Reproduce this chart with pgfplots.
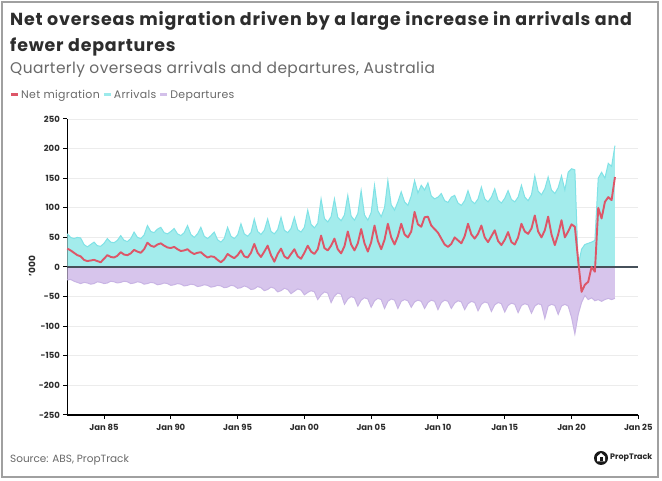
\documentclass[border=0pt]{standalone}
\usepackage{fontspec}
\setmainfont{Poppins}
\usepackage{pgfplots}
\usepackage{pgfplotstable}
\pgfplotsset{compat=1.18}

\definecolor{arrfill}{RGB}{163,236,236}
\definecolor{arrline}{RGB}{128,226,230}
\definecolor{depfill}{RGB}{215,197,236}
\definecolor{depline}{RGB}{200,180,228}
\definecolor{netcol}{RGB}{221,86,104}
\definecolor{zerocol}{RGB}{70,80,90}
\definecolor{gridcol}{RGB}{236,236,236}
\definecolor{txtdark}{RGB}{45,45,45}
\definecolor{txtgray}{RGB}{105,105,105}
\definecolor{framecol}{RGB}{160,160,160}

% quarterly, '000 persons
\pgfplotstableread{
x arr dep net
1982.25 56 -22 31
1982.50 50 -21 28
1982.75 48 -24 24
1983.00 50 -26 20
1983.25 49 -28 18
1983.50 38 -26 12
1983.75 34 -27 10
1984.00 38 -29 11
1984.25 42 -28 12
1984.50 36 -25 10
1984.75 35 -26 8
1985.00 40 -28 14
1985.25 48 -27 20
1985.50 42 -24 17
1985.75 41 -25 16
1986.00 45 -27 19
1986.25 53 -26 25
1986.50 45 -24 21
1986.75 43 -25 20
1987.00 48 -28 23
1987.25 59 -27 29
1987.50 50 -25 26
1987.75 48 -26 24
1988.00 54 -29 30
1988.25 70 -28 41
1988.50 60 -26 36
1988.75 58 -27 34
1989.00 64 -30 38
1989.25 67 -29 40
1989.50 58 -27 36
1989.75 56 -28 33
1990.00 60 -31 32
1990.25 65 -30 34
1990.50 56 -28 30
1990.75 53 -29 27
1991.00 58 -32 28
1991.25 70 -31 30
1991.50 55 -29 25
1991.75 50 -30 22
1992.00 56 -33 24
1992.25 67 -32 25
1992.50 52 -30 20
1992.75 48 -31 16
1993.00 53 -34 18
1993.25 59 -33 17
1993.50 46 -31 12
1993.75 42 -32 8
1994.00 48 -35 13
1994.25 67 -34 22
1994.50 52 -31 18
1994.75 48 -32 15
1995.00 54 -36 20
1995.25 73 -35 28
1995.50 56 -32 18
1995.75 52 -34 16
1996.00 58 -38 24
1996.25 81 -37 39
1996.50 60 -33 24
1996.75 55 -35 17
1997.00 62 -40 26
1997.25 81 -38 36
1997.50 60 -34 20
1997.75 56 -36 9
1998.00 63 -42 22
1998.25 84 -40 31
1998.50 62 -36 18
1998.75 58 -38 14
1999.00 65 -45 22
1999.25 84 -41 30
1999.50 63 -37 18
1999.75 59 -39 14
2000.00 67 -47 24
2000.25 96 -43 36
2000.50 72 -40 26
2000.75 66 -42 22
2001.00 74 -55 30
2001.25 115 -47 53
2001.50 82 -42 32
2001.75 76 -44 28
2002.00 85 -60 36
2002.25 115 -49 48
2002.50 84 -44 30
2002.75 78 -46 23
2003.00 88 -63 35
2003.25 121 -54 60
2003.50 86 -50 38
2003.75 79 -52 28
2004.00 90 -66 40
2004.25 129 -56 64
2004.50 88 -52 40
2004.75 79 -54 26
2005.00 92 -68 42
2005.25 138 -57 70
2005.50 95 -53 44
2005.75 85 -55 30
2006.00 100 -70 46
2006.25 146 -58 73
2006.50 105 -54 50
2006.75 96 -56 38
2007.00 110 -70 52
2007.25 127 -58 73
2007.50 110 -55 55
2007.75 104 -57 50
2008.00 120 -68 60
2008.25 146 -59 93
2008.50 125 -56 72
2008.75 138 -58 68
2009.00 130 -70 84
2009.25 142 -60 85
2009.50 120 -56 70
2009.75 115 -58 64
2010.00 118 -72 58
2010.25 124 -60 48
2010.50 112 -56 38
2010.75 109 -58 34
2011.00 118 -70 39
2011.25 121 -61 50
2011.50 108 -57 45
2011.75 104 -59 40
2012.00 112 -72 52
2012.25 129 -62 73
2012.50 112 -58 55
2012.75 107 -60 48
2013.00 115 -74 56
2013.25 135 -63 70
2013.50 115 -59 50
2013.75 110 -61 42
2014.00 118 -75 52
2014.25 132 -64 62
2014.50 113 -60 44
2014.75 108 -62 37
2015.00 116 -76 46
2015.25 129 -65 59
2015.50 114 -61 42
2015.75 110 -63 38
2016.00 118 -77 50
2016.25 138 -65 73
2016.50 118 -62 60
2016.75 112 -64 56
2017.00 122 -78 65
2017.25 154 -66 87
2017.50 128 -62 60
2017.75 122 -64 50
2018.00 132 -87 62
2018.25 152 -66 85
2018.50 130 -63 55
2018.75 124 -65 37
2019.00 134 -80 55
2019.25 154 -66 79
2019.50 130 -63 50
2019.75 160 -66 60
2020.00 166 -85 72
2020.25 164 -113 68
2020.50 3 -80 10
2020.75 30 -60 -42
2021.00 38 -48 -30
2021.25 40 -55 -25
2021.50 42 -52 0
2021.75 45 -57 -8
2022.00 150 -55 100
2022.25 160 -58 82
2022.50 150 -55 110
2022.75 175 -53 118
2023.00 170 -55 113
2023.25 205 -53 152
}\migdata

\begin{document}
\begin{tikzpicture}[x=1bp,y=1bp]
  \fill[white] (0,0) rectangle (662,481);
  \draw[framecol, line width=2.5bp] (2,4) rectangle (658,479);

  % titles
  \node[anchor=base west, inner sep=0, text=txtdark,
        font=\fontsize{17.5}{20}\selectfont\bfseries\addfontfeatures{LetterSpace=4.5}] at (10,455)
        {Net overseas migration driven by a large increase in arrivals and};
  \node[anchor=base west, inner sep=0, text=txtdark,
        font=\fontsize{17.5}{20}\selectfont\bfseries\addfontfeatures{LetterSpace=4.5}] at (10,429)
        {fewer departures};
  \node[anchor=base west, inner sep=0, text=txtgray,
        font=\fontsize{15.5}{18}\selectfont\addfontfeatures{LetterSpace=2.5}] at (10,407)
        {Quarterly overseas arrivals and departures, Australia};

  % legend
  \node[anchor=base west, inner sep=0, text=txtgray,
        font=\fontsize{11}{13}\selectfont\addfontfeatures{LetterSpace=3}] at (11,382)
        {\textcolor{netcol}{\rule[2.8bp]{7bp}{3bp}}\kern3bp Net migration\kern4bp%
         \textcolor{arrfill!80!arrline}{\rule[2.8bp]{7bp}{3bp}}\kern3bp Arrivals\kern4bp%
         \textcolor{depfill!70!depline}{\rule[2.8bp]{7bp}{3bp}}\kern3bp Departures};

  \begin{axis}[
    at={(67.3bp,66bp)}, anchor=south west,
    scale only axis, width=571bp, height=296bp,
    xmin=1982.25, xmax=2025, ymin=-250, ymax=250,
    axis x line*=bottom, axis y line*=left,
    axis line style={black, line width=1.1bp},
    tick align=outside, major tick length=4bp,
    tick style={black, line width=1bp},
    xtick={1985,1990,1995,2000,2005,2010,2015,2020,2025},
    xticklabels={Jan 85,Jan 90,Jan 95,Jan 00,Jan 05,Jan 10,Jan 15,Jan 20,Jan 25},
    ytick={-250,-200,-150,-100,-50,0,50,100,150,200,250},
    yticklabels={-250,-200,-150,-100,-50,0,50,100,150,200,250},
    ticklabel style={font=\fontsize{8.5}{10}\selectfont\bfseries, text=txtdark},
    xticklabel style={yshift=-2bp},
    ymajorgrids, grid style={gridcol, line width=0.8bp},
    clip=false,
  ]
    \addplot[draw=none, fill=arrfill] table[x=x, y=arr]{\migdata} \closedcycle;
    \addplot[arrline, line width=1bp] table[x=x, y=arr]{\migdata};
    \addplot[draw=none, fill=depfill] table[x=x, y=dep]{\migdata} \closedcycle;
    \addplot[depline, line width=1bp] table[x=x, y=dep]{\migdata};
    \addplot[zerocol, line width=1.2bp] coordinates {(1982.25,0) (2025,0)};
    \addplot[netcol, line width=1.9bp, line join=round] table[x=x, y=net]{\migdata};
  \end{axis}

  \node[rotate=90, font=\fontsize{9}{10}\selectfont\bfseries, text=txtdark] at (32,215) {'000};

  % source and logo
  \node[anchor=base west, inner sep=0, text=txtgray,
        font=\fontsize{10.5}{12}\selectfont] at (10,18) {Source: ABS, PropTrack};
  \fill[black!90] (601,23) circle (7);
  \fill[white] (597,19.5) -- (597,24.5) -- (601,28) -- (605,24.5) -- (605,19.5) -- cycle;
  \fill[black!90] (599.5,19.5) rectangle (602.5,23.5);
  \node[anchor=west, inner sep=0, text=black!85,
        font=\fontsize{8}{10}\selectfont\bfseries] at (610,23) {PropTrack};
\end{tikzpicture}
\end{document}
